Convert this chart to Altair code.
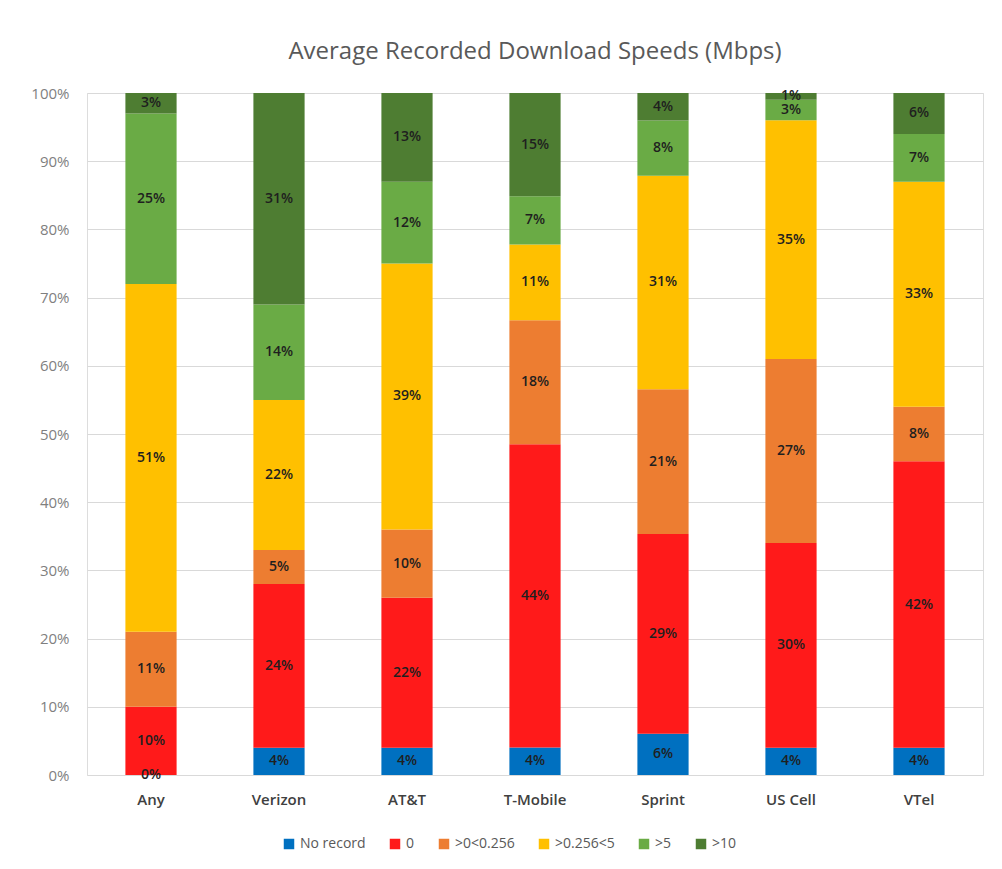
import altair as alt
import pandas as pd

carriers = ["Any", "Verizon", "AT&T", "T-Mobile", "Sprint", "US Cell", "VTel"]
bins = ["No record", "0", ">0<0.256", ">0.256<5", ">5", ">10"]
colors = ["#0070C0", "#FF1A1A", "#ED7D31", "#FFC000", "#6AAB45", "#4E7D32"]

no_record = [0, 4, 4, 4, 6, 4, 4]
zero = [10, 24, 22, 44, 29, 30, 42]
lt_0256 = [11, 5, 10, 18, 21, 27, 8]
lt_5 = [51, 22, 39, 11, 31, 35, 33]
gt_5 = [25, 14, 12, 7, 8, 3, 7]
gt_10 = [3, 31, 13, 15, 4, 1, 6]

series = [no_record, zero, lt_0256, lt_5, gt_5, gt_10]
rows = []
for bi, (b, vals) in enumerate(zip(bins, series)):
    for c, v in zip(carriers, vals):
        rows.append({"carrier": c, "bin": b, "order": bi, "v": v, "label": f"{v}%"})
df = pd.DataFrame(rows)

font = "Open Sans"
yticks = [i / 10 for i in range(11)]

base = alt.Chart(df).transform_stack(
    stack="v", groupby=["carrier"], as_=["y0", "y1"],
    sort=[alt.SortField("order", order="ascending")], offset="normalize"
).transform_calculate(mid="(datum.y0 + datum.y1) / 2")

x = alt.X("carrier:N", sort=carriers, title=None,
          scale=alt.Scale(paddingInner=0.6, paddingOuter=0.3),
          axis=alt.Axis(labelAngle=0, labelFont=font, labelFontSize=15, labelFontWeight=600,
                        labelColor="#404040", ticks=False, domain=False, labelPadding=17))

yaxis = alt.Axis(format=".0%", values=yticks,
                 labelFont=font, labelFontSize=15, labelColor="#7F7F7F",
                 ticks=False, domain=False, labelPadding=18,
                 grid=True, gridColor="#D9D9D9", gridWidth=1)

bars = base.mark_bar().encode(
    x=x,
    y=alt.Y("y0:Q", title=None, scale=alt.Scale(domain=[0, 1]), axis=yaxis),
    y2="y1:Q",
    color=alt.Color("bin:N", sort=bins, title=None,
                    scale=alt.Scale(domain=bins, range=colors),
                    legend=alt.Legend(orient="none", direction="horizontal", legendX=195, legendY=744,
                                      symbolType="square", symbolSize=110, symbolStrokeWidth=0,
                                      labelFont=font, labelFontSize=14, labelColor="#595959",
                                      columnPadding=22, labelOffset=4)),
)

texts = base.mark_text(font=font, fontSize=14, fontWeight=600, color="#1F1F1F").encode(
    x=alt.X("carrier:N", sort=carriers),
    y=alt.Y("mid:Q", scale=alt.Scale(domain=[0, 1]), axis=yaxis),
    text="label:N",
)

chart = alt.layer(bars, texts).properties(
    width=896, height=682,
    title=alt.TitleParams("Average Recorded Download Speeds (Mbps)", font=font, fontSize=24,
                          fontWeight="normal", color="#595959", offset=22),
    padding={"left": 22, "top": 32, "right": 10, "bottom": 10},
).configure_view(stroke=None).configure(background="white")

chart.save("out.html", embed_options={"renderer": "svg", "actions": False})
